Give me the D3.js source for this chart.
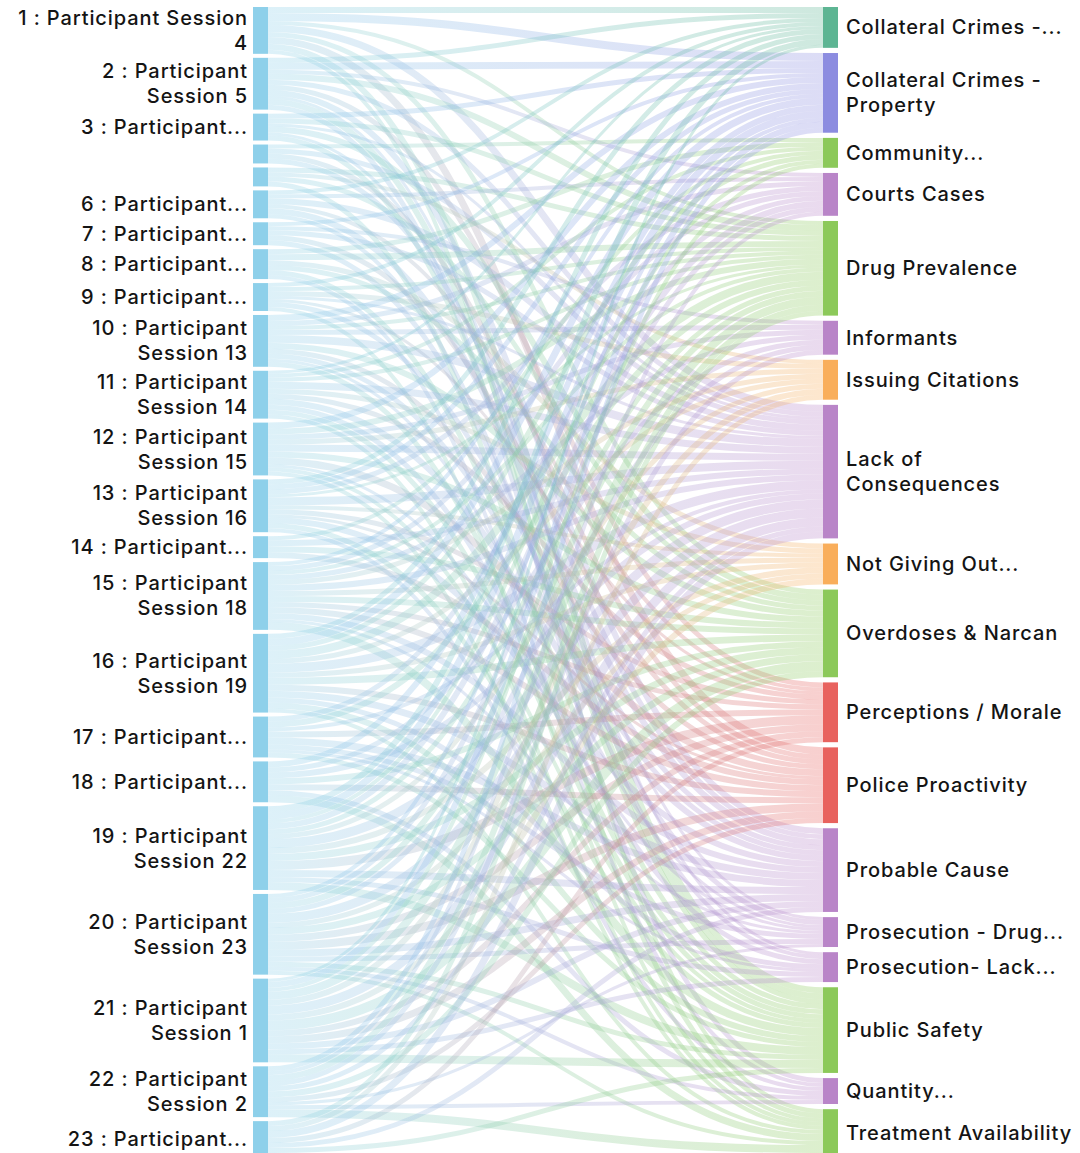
<!DOCTYPE html>
<html><head><meta charset="utf-8">
<script src="https://cdn.jsdelivr.net/npm/d3@7"></script>
<style>
body{margin:0;background:#fff;}
svg text{font-family:Inter,"Liberation Sans",sans-serif;fill:#141414;}
</style></head><body><svg id="chart" width="1080" height="1153"></svg>
<script>
// ---------- DATA ----------
const participants = [
 "1 : Participant Session 4","2 : Participant Session 5","3 : Participant","4 : Participant","5 : Participant",
 "6 : Participant","7 : Participant","8 : Participant","9 : Participant","10 : Participant Session 13",
 "11 : Participant Session 14","12 : Participant Session 15","13 : Participant Session 16","14 : Participant",
 "15 : Participant Session 18","16 : Participant Session 19","17 : Participant","18 : Participant",
 "19 : Participant Session 22","20 : Participant Session 23","21 : Participant Session 1","22 : Participant Session 2","23 : Participant"];
// labels as displayed (line breaks with \n, empty = not shown)
const participantLabels = [
 "1 : Participant Session\n4","2 : Participant\nSession 5","3 : Participant...","","",
 "6 : Participant...","7 : Participant...","8 : Participant...","9 : Participant...","10 : Participant\nSession 13",
 "11 : Participant\nSession 14","12 : Participant\nSession 15","13 : Participant\nSession 16","14 : Participant...",
 "15 : Participant\nSession 18","16 : Participant\nSession 19","17 : Participant...","18 : Participant...",
 "19 : Participant\nSession 22","20 : Participant\nSession 23","21 : Participant\nSession 1","22 : Participant\nSession 2","23 : Participant..."];
const categories = [
 "Collateral Crimes -...","Collateral Crimes - Property","Community...","Courts Cases","Drug Prevalence",
 "Informants","Issuing Citations","Lack of Consequences","Not Giving Out...","Overdoses & Narcan",
 "Perceptions / Morale","Police Proactivity","Probable Cause","Prosecution - Drug...","Prosecution- Lack...",
 "Public Safety","Quantity...","Treatment Availability"];
const categoryLabels = [
 "Collateral Crimes -...","Collateral Crimes -\nProperty","Community...","Courts Cases","Drug Prevalence",
 "Informants","Issuing Citations","Lack of\nConsequences","Not Giving Out...","Overdoses & Narcan",
 "Perceptions / Morale","Police Proactivity","Probable Cause","Prosecution - Drug...","Prosecution- Lack...",
 "Public Safety","Quantity...","Treatment Availability"];
// flows[participant][category]
const flows = [
 [6,8,0,0,4,0,0,7,0,5,0,7,0,0,0,6,0,4],
 [5,7,0,4,6,0,0,5,0,0,5,0,6,0,3,6,5,0],
 [0,5,0,0,5,0,0,3,0,6,0,0,0,3,0,5,0,0],
 [0,0,4,0,0,0,0,5,0,0,0,5,5,0,0,0,0,0],
 [0,0,0,0,5,0,4,0,0,5,0,0,0,0,0,0,0,5],
 [4,0,0,4,0,0,0,6,0,0,4,0,6,0,4,0,0,0],
 [0,4,0,0,0,4,0,5,0,0,0,5,0,5,0,0,0,0],
 [0,0,5,0,6,0,0,0,5,5,0,0,0,0,0,5,4,0],
 [4,0,0,0,4,0,5,3,0,0,3,0,5,0,0,0,0,4],
 [0,6,0,5,4,5,0,8,0,6,0,5,5,3,0,5,0,0],
 [3,0,4,0,4,0,0,7,5,0,5,0,6,0,5,5,0,4],
 [0,6,0,0,6,5,5,7,0,6,0,7,0,3,0,4,0,4],
 [5,5,0,5,3,0,0,8,4,0,5,3,6,0,0,5,4,0],
 [0,0,4,0,0,0,0,6,0,6,0,6,0,0,0,0,0,0],
 [0,4,0,5,4,5,5,6,5,6,5,6,6,3,0,8,0,0],
 [5,7,5,0,8,0,5,9,5,7,0,6,7,0,5,6,0,4],
 [0,0,0,5,6,0,0,4,0,0,6,0,7,5,3,5,0,0],
 [0,6,0,0,0,5,0,6,0,6,0,6,0,0,0,0,5,7],
 [6,7,4,6,5,0,5,9,6,7,9,0,7,0,5,8,0,0],
 [0,4,0,5,6,5,0,9,5,7,7,8,7,5,0,5,4,4],
 [3,6,4,0,8,0,6,9,6,10,6,7,6,0,5,8,0,0],
 [0,5,0,4,6,5,0,5,0,6,0,5,0,3,0,0,4,8],
 [0,0,0,0,5,0,5,7,0,0,5,0,5,0,0,5,0,4]];

// ---------- STYLE ----------
const participantColor = "#8ed0ea";
const categoryColor = {
 "Collateral Crimes -...":"#5db593","Collateral Crimes - Property":"#8c8ce0","Community...":"#8cc95a",
 "Courts Cases":"#b985c8","Drug Prevalence":"#8cc95a","Informants":"#b985c8","Issuing Citations":"#f9ae5b",
 "Lack of Consequences":"#b985c8","Not Giving Out...":"#f9ae5b","Overdoses & Narcan":"#8cc95a",
 "Perceptions / Morale":"#e8625e","Police Proactivity":"#e8625e","Probable Cause":"#b985c8",
 "Prosecution - Drug...":"#b985c8","Prosecution- Lack...":"#b985c8","Public Safety":"#8cc95a",
 "Quantity...":"#b985c8","Treatment Availability":"#8cc95a"};

// ---------- LAYOUT ----------
const svg = d3.select("#chart");
const yTop = 7, yBottom = 1157, pad = 4;
const xL0 = 253, xL1 = 268, xR0 = 823, xR1 = 838;
const srcTotals = flows.map(r => d3.sum(r));
const tgtTotals = categories.map((c, j) => d3.sum(flows, r => r[j]));
const total = d3.sum(srcTotals);
const span = yBottom - yTop - (participants.length - 1) * pad;
const h = d3.scaleLinear().domain([0, total]).range([0, span]);
const padR = (yBottom - yTop - h(total)) / (categories.length - 1);

const srcY = []; let yy = yTop;
srcTotals.forEach((v) => { srcY.push(yy); yy += h(v) + pad; });
const tgtY = []; yy = yTop;
tgtTotals.forEach((v) => { tgtY.push(yy); yy += h(v) + padR; });

const links = [];
const srcOff = srcY.slice(), tgtOff = tgtY.slice();
flows.forEach((row, i) => row.forEach((v, j) => { if (v > 0) { const w = h(v); links.push({i, j, v, w, sy: srcOff[i] + w/2}); srcOff[i] += w; } }));
for (let j = 0; j < categories.length; j++) {
  links.filter(l => l.j === j).sort((a, b) => a.i - b.i).forEach(l => { l.ty = tgtOff[j] + l.w/2; tgtOff[j] += l.w; });
}

const defs = svg.append("defs");
links.forEach((l, k) => {
  const g = defs.append("linearGradient").attr("id", "lg" + k)
    .attr("gradientUnits", "userSpaceOnUse").attr("x1", xL1).attr("x2", xR0).attr("y1", 0).attr("y2", 0);
  g.append("stop").attr("offset", "0%").attr("stop-color", participantColor);
  g.append("stop").attr("offset", "100%").attr("stop-color", categoryColor[categories[l.j]]);
});

const linkGen = d3.linkHorizontal().source(d => [xL1, d.sy]).target(d => [xR0, d.ty]);
svg.append("g").attr("fill", "none").selectAll("path").data(links).join("path")
  .attr("d", linkGen)
  .attr("stroke", (d, k) => `url(#lg${k})`)
  .attr("stroke-opacity", 0.3)
  .attr("stroke-width", d => d.w);

// nodes
svg.append("g").selectAll("rect").data(participants).join("rect")
  .attr("x", xL0).attr("width", xL1 - xL0)
  .attr("y", (d, i) => srcY[i]).attr("height", (d, i) => h(srcTotals[i]))
  .attr("fill", participantColor);
svg.append("g").selectAll("rect").data(categories).join("rect")
  .attr("x", xR0).attr("width", xR1 - xR0)
  .attr("y", (d, j) => tgtY[j]).attr("height", (d, j) => h(tgtTotals[j]))
  .attr("fill", d => categoryColor[d]);

// labels
const lh = 25;
function addLabel(text, x, cy, anchor) {
  if (!text) return;
  const lines = text.split("\n");
  const t = svg.append("text").attr("text-anchor", anchor)
    .attr("font-size", 20).attr("font-weight", 500).attr("letter-spacing", "0.9px");
  lines.forEach((s, k) => t.append("tspan").attr("x", x)
    .attr("y", cy + (k - (lines.length - 1) / 2) * lh)
    .attr("dominant-baseline", "central").text(s));
}
participantLabels.forEach((s, i) => addLabel(s, 248, srcY[i] + h(srcTotals[i]) / 2, "end"));
categoryLabels.forEach((s, j) => addLabel(s, 846, tgtY[j] + h(tgtTotals[j]) / 2, "start"));
</script></body></html>
